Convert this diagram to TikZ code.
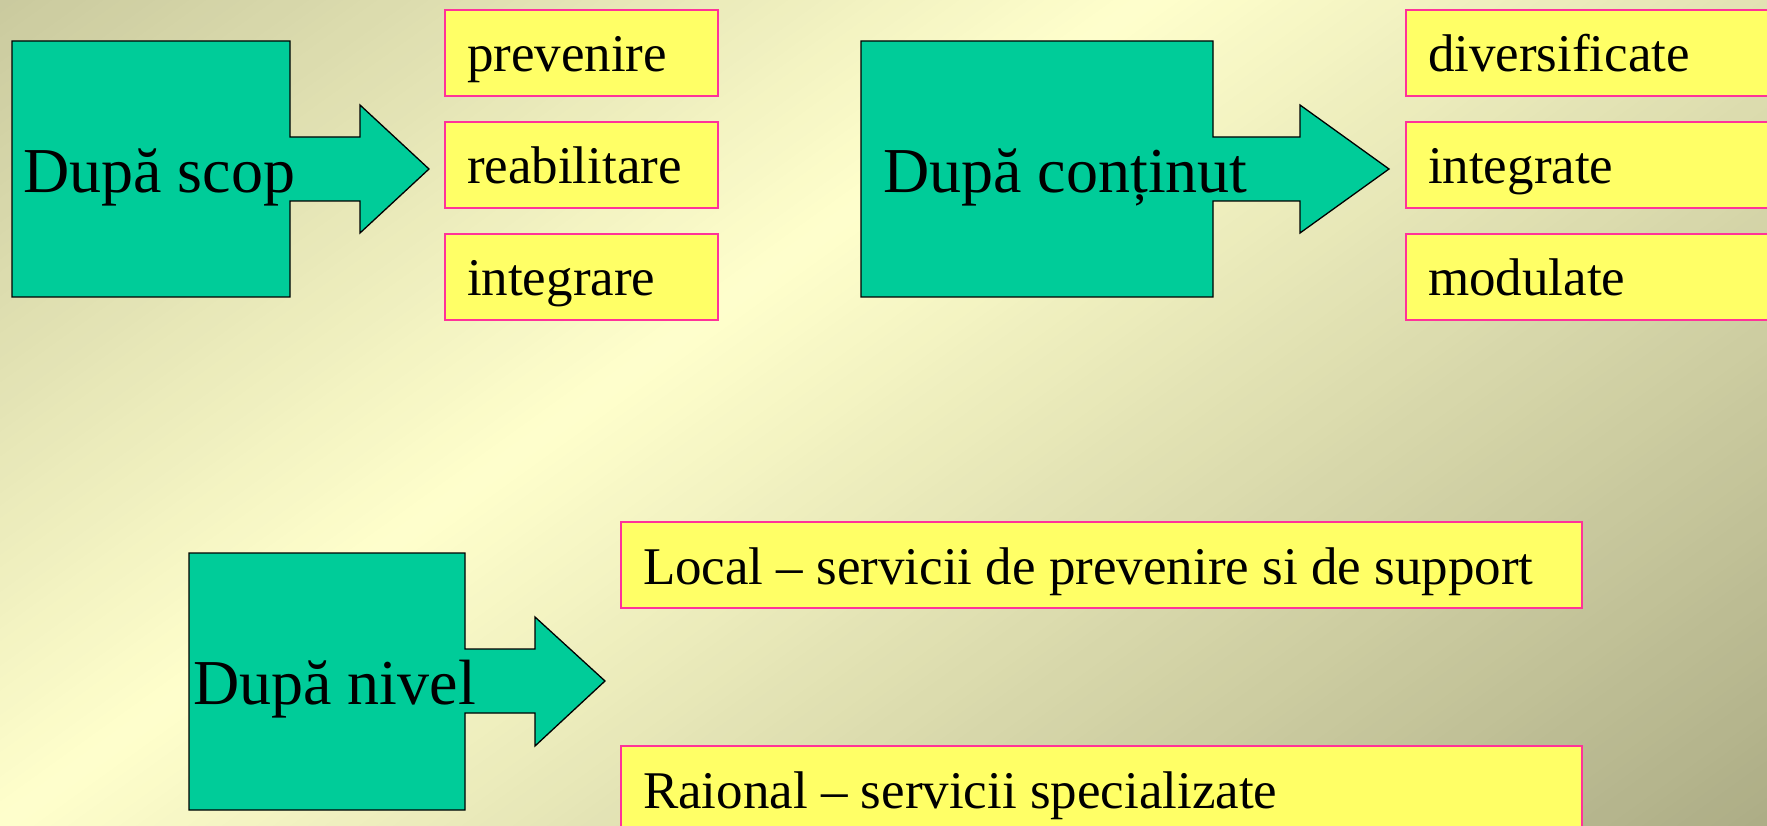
\documentclass[tikz,border=0pt]{standalone}
\usepackage{fontspec}
\setmainfont{Liberation Serif}
\definecolor{bglight}{HTML}{FFFFCC}
\definecolor{bgdark}{HTML}{ADAD86}
\definecolor{arrowgreen}{HTML}{00CC99}
\definecolor{boxyellow}{HTML}{FFFF66}
\definecolor{boxpink}{HTML}{FF3399}
\newcommand{\itemtext}[2]{\makebox[#1][l]{#2}}
\tikzset{
  arrowshape/.style={fill=arrowgreen, draw=black, line width=1.3pt, line join=miter},
  itembox/.style={fill=boxyellow, draw=boxpink, line width=2pt, anchor=north west,
    inner xsep=22pt, inner ysep=0pt, text height=62pt, text depth=24pt,
    font=\fontsize{53}{60}\selectfont},
  biglabel/.style={anchor=base west, inner sep=0pt, font=\fontsize{64}{70}\selectfont},
}
\begin{document}
\begin{tikzpicture}[x=1pt, y=-1pt]
\useasboundingbox (0,0) rectangle (1767,826);
\clip (0,0) rectangle (1767,826);
% background gradient
\foreach \d in {-720,-710,...,1060} {
  \pgfmathsetmacro\f{min(abs(\d+5)/1030,1)*100}
  \colorlet{stripe}{bgdark!\f!bglight}
  \fill[stripe] ({\d*0.5843-2028.75},{826+\d*0.8115+1460.75})
     -- ({\d*0.5843+2028.75},{826+\d*0.8115-1460.75})
     -- ({(\d+11)*0.5843+2028.75},{826+(\d+11)*0.8115-1460.75})
     -- ({(\d+11)*0.5843-2028.75},{826+(\d+11)*0.8115+1460.75}) -- cycle;
}
% arrows
\draw[arrowshape] (12,41) -- (290,41) -- (290,137) -- (360,137) -- (360,105) -- (429,169)
  -- (360,233) -- (360,201) -- (290,201) -- (290,297) -- (12,297) -- cycle;
\draw[arrowshape] (861,41) -- (1213,41) -- (1213,137) -- (1300,137) -- (1300,105) -- (1389,169)
  -- (1300,233) -- (1300,201) -- (1213,201) -- (1213,297) -- (861,297) -- cycle;
\draw[arrowshape] (189,553) -- (465,553) -- (465,649) -- (535,649) -- (535,617) -- (605,681)
  -- (535,746) -- (535,713) -- (465,713) -- (465,810) -- (189,810) -- cycle;
\node[biglabel] (scop) at (23,193) {După scop};
\node[biglabel] (continut) at (883,193) {După conținut};
\node[biglabel] (nivel) at (193,704) {După nivel};
% item boxes
\node[itembox] (prev) at (444,9) {\itemtext{229pt}{prevenire}};
\node[itembox] (reab) at (444,121) {\itemtext{229pt}{reabilitare}};
\node[itembox] (integ) at (444,233) {\itemtext{229pt}{integrare}};
\node[itembox] (div) at (1405,9) {\itemtext{500pt}{diversificate}};
\node[itembox] (integt) at (1405,121) {\itemtext{500pt}{integrate}};
\node[itembox] (modul) at (1405,233) {\itemtext{500pt}{modulate}};
\node[itembox] (local) at (620,521) {\itemtext{917pt}{Local – servicii de prevenire si de support}};
\node[itembox] (raional) at (620,745) {\itemtext{917pt}{Raional – servicii specializate}};
\end{tikzpicture}
\end{document}
